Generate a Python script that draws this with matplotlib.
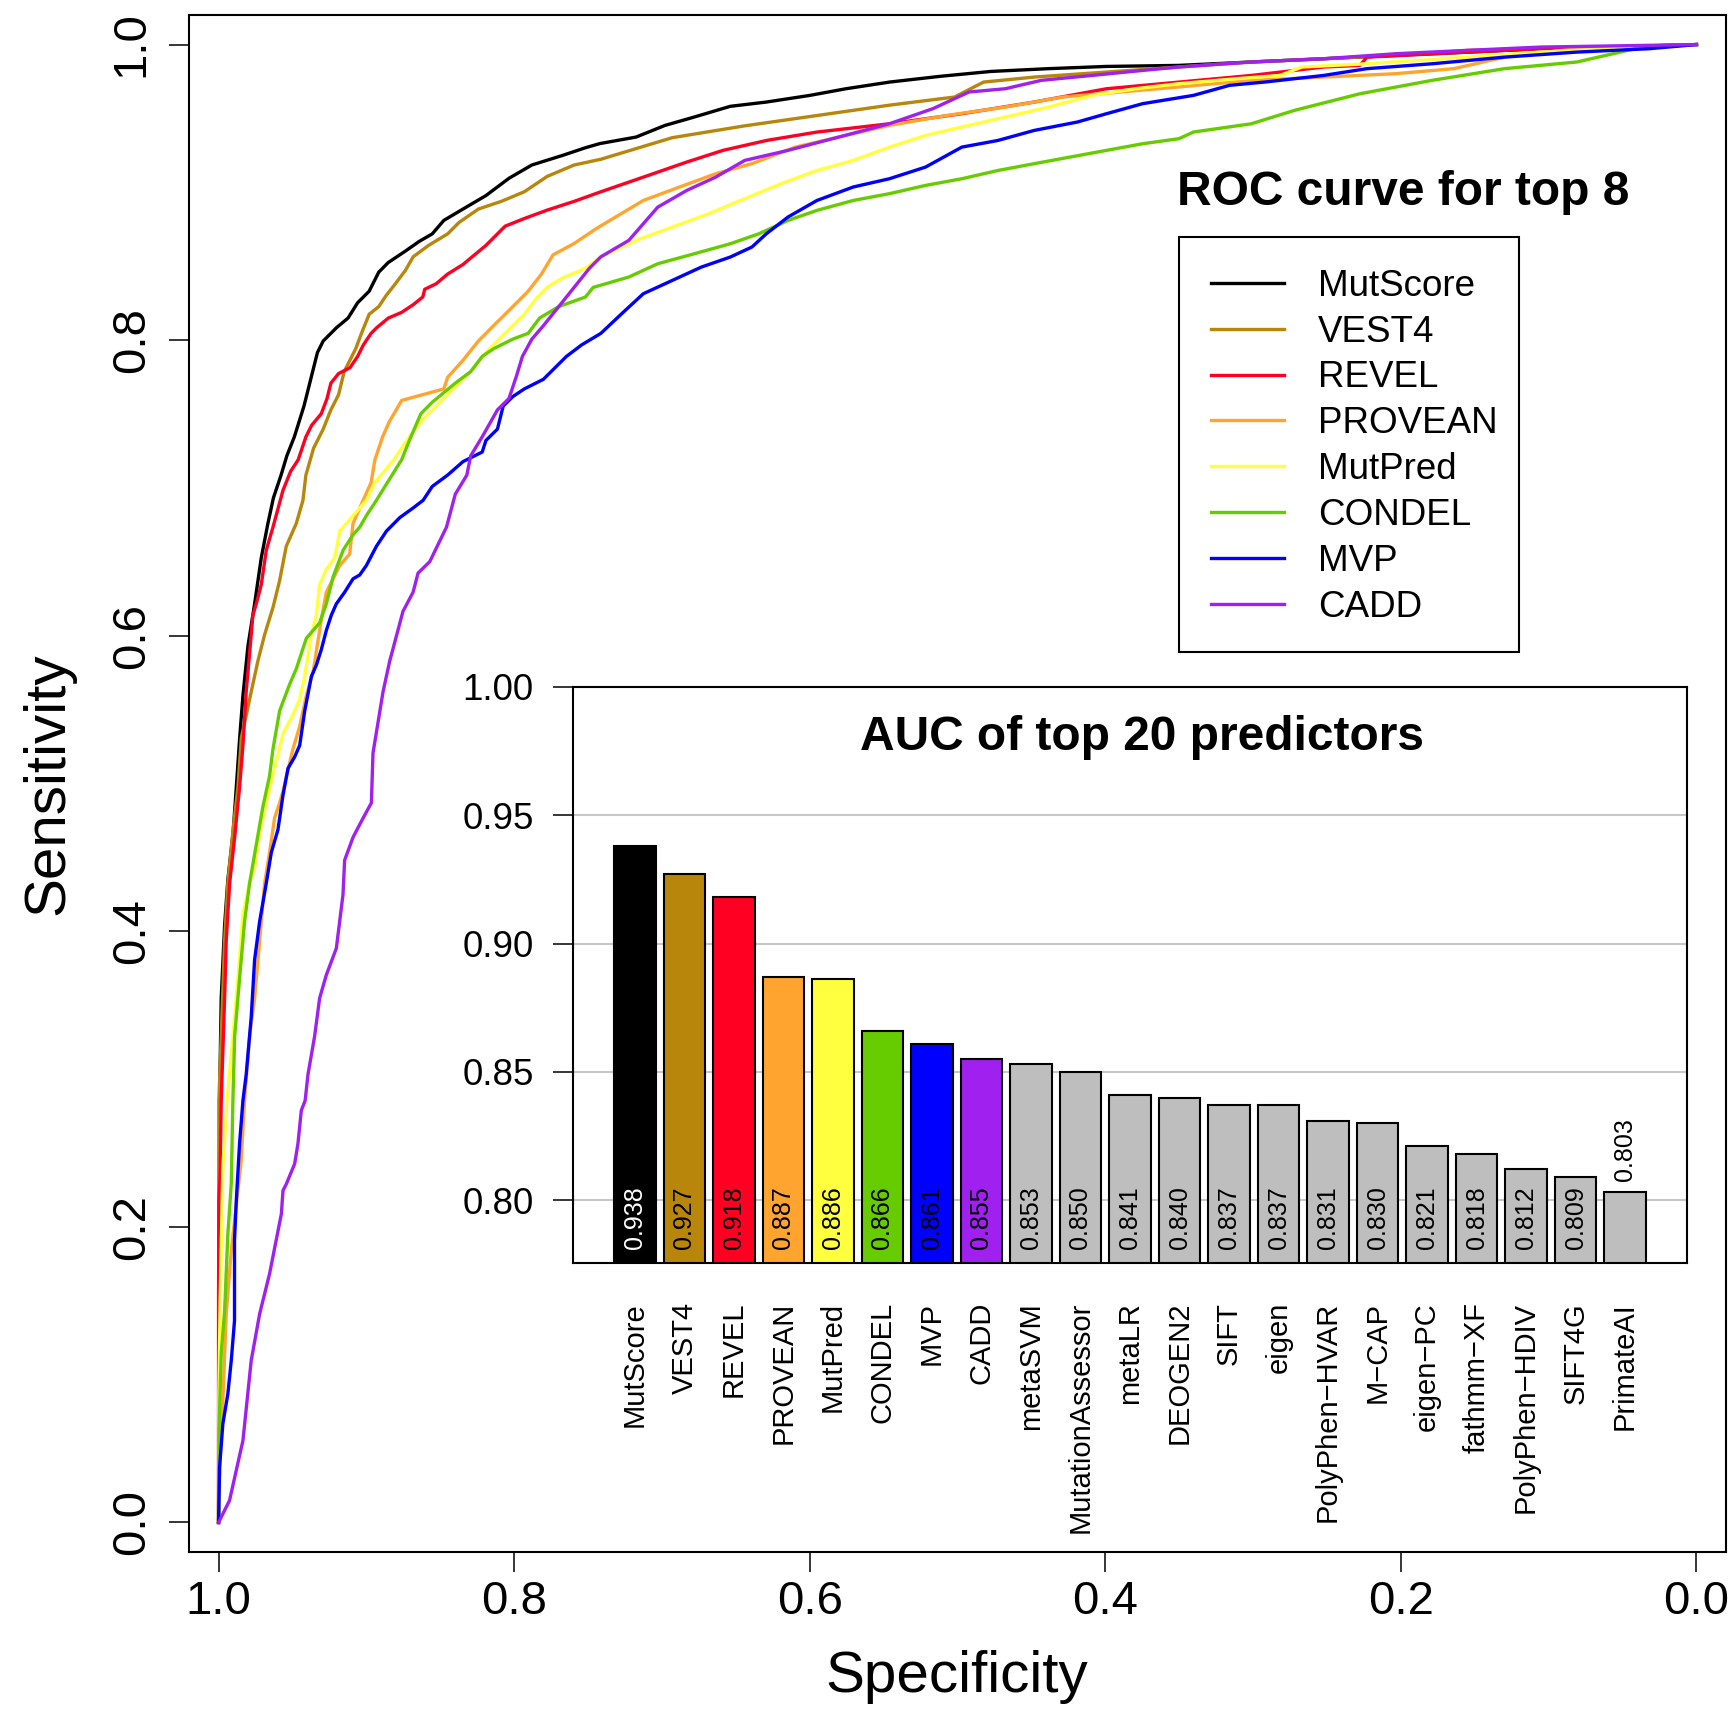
import matplotlib
matplotlib.use("Agg")
import matplotlib.pyplot as plt
from matplotlib.patches import Rectangle

plt.rcParams['font.family'] = ['Liberation Sans', 'DejaVu Sans']

# ROC curves: (specificity, sensitivity)
mutscore_roc = [
    (1.000, 0.000), (0.9995, 0.150), (0.9993, 0.2855), (0.9982, 0.3548), (0.9959, 0.4041),
    (0.9937, 0.4350), (0.9902, 0.4662), (0.9880, 0.4973), (0.9857, 0.5310), (0.9835, 0.5595),
    (0.9801, 0.5931), (0.9756, 0.6216), (0.9711, 0.6527), (0.9666, 0.6760), (0.9629, 0.6932),
    (0.9577, 0.7087), (0.9538, 0.7217), (0.9487, 0.7346), (0.9422, 0.7554), (0.9383, 0.7709),
    (0.9331, 0.7916), (0.9292, 0.7994), (0.9201, 0.8085), (0.9124, 0.8149), (0.9059, 0.8253),
    (0.8981, 0.8331), (0.8916, 0.8460), (0.8852, 0.8525), (0.8735, 0.8603), (0.8644, 0.8667),
    (0.8554, 0.8719), (0.8476, 0.8810), (0.8346, 0.8887), (0.8191, 0.8978), (0.8035, 0.9095),
    (0.7880, 0.9185), (0.7672, 0.9250), (0.7517, 0.9302), (0.7420, 0.9330), (0.7175, 0.9374),
    (0.6979, 0.9453), (0.6783, 0.9509), (0.6538, 0.9582), (0.6293, 0.9611), (0.5999, 0.9656),
    (0.5755, 0.9701), (0.5461, 0.9746), (0.5118, 0.9785), (0.4775, 0.9818), (0.4383, 0.9837),
    (0.3992, 0.9852), (0.3502, 0.9859), (0.3012, 0.9882), (0.2523, 0.9904), (0.2033, 0.9927),
    (0.1543, 0.9949), (0.1053, 0.9972), (0.0564, 0.9983), (0.000, 1.000),
]
vest4_roc = [
    (1.000, 0.000), (0.9998, 0.2855), (0.9982, 0.3290), (0.9959, 0.3937), (0.9937, 0.4326),
    (0.9902, 0.4688), (0.9869, 0.4973), (0.9846, 0.5310), (0.9812, 0.5465), (0.9779, 0.5621),
    (0.9734, 0.5828), (0.9688, 0.6009), (0.9632, 0.6190), (0.9587, 0.6372), (0.9542, 0.6605),
    (0.9474, 0.6760), (0.9429, 0.6916), (0.9409, 0.7087), (0.9357, 0.7269), (0.9292, 0.7398),
    (0.9240, 0.7528), (0.9188, 0.7631), (0.9150, 0.7787), (0.9072, 0.7942), (0.9033, 0.8046),
    (0.8981, 0.8175), (0.8916, 0.8227), (0.8864, 0.8305), (0.8813, 0.8369), (0.8735, 0.8473),
    (0.8683, 0.8564), (0.8579, 0.8641), (0.8450, 0.8719), (0.8372, 0.8797), (0.8242, 0.8887),
    (0.8087, 0.8939), (0.7931, 0.9004), (0.7776, 0.9108), (0.7594, 0.9185), (0.7413, 0.9224),
    (0.6930, 0.9370), (0.6440, 0.9450), (0.5950, 0.9520), (0.5460, 0.9590), (0.5020, 0.9645),
    (0.4824, 0.9746), (0.4481, 0.9780), (0.3992, 0.9814), (0.3502, 0.9848), (0.3012, 0.9882),
    (0.2523, 0.9904), (0.2033, 0.9927), (0.1543, 0.9961), (0.1053, 0.9972), (0.0466, 0.9975),
    (0.000, 1.000),
]
revel_roc = [
    (1.000, 0.000), (1.000, 0.150), (0.9998, 0.2178), (0.9989, 0.2359), (0.9982, 0.2855),
    (0.9959, 0.3548), (0.9948, 0.3937), (0.9925, 0.4326), (0.9891, 0.4636), (0.9858, 0.4973),
    (0.9835, 0.5258), (0.9813, 0.5621), (0.9790, 0.5880), (0.9768, 0.6138), (0.9745, 0.6216),
    (0.9711, 0.6346), (0.9677, 0.6579), (0.9632, 0.6734), (0.9564, 0.6984), (0.9512, 0.7113),
    (0.9461, 0.7191), (0.9409, 0.7346), (0.9370, 0.7424), (0.9305, 0.7502), (0.9266, 0.7605),
    (0.9240, 0.7709), (0.9188, 0.7774), (0.9111, 0.7813), (0.9059, 0.7890), (0.9020, 0.7968),
    (0.8968, 0.8046), (0.8929, 0.8085), (0.8852, 0.8149), (0.8761, 0.8188), (0.8683, 0.8240),
    (0.8618, 0.8292), (0.8605, 0.8344), (0.8527, 0.8382), (0.8450, 0.8447), (0.8346, 0.8512),
    (0.8268, 0.8577), (0.8191, 0.8641), (0.8061, 0.8771), (0.7931, 0.8823), (0.7776, 0.8880),
    (0.7594, 0.8939), (0.7413, 0.9004), (0.7126, 0.9103), (0.6832, 0.9205), (0.6587, 0.9284),
    (0.6293, 0.9351), (0.5951, 0.9408), (0.5461, 0.9464), (0.4971, 0.9532), (0.4481, 0.9611),
    (0.3992, 0.9701), (0.3502, 0.9746), (0.3012, 0.9791), (0.2523, 0.9848), (0.2278, 0.9859),
    (0.2229, 0.9915), (0.1543, 0.9949), (0.1053, 0.9972), (0.000, 1.000),
]
provean_roc = [
    (1.000, 0.000), (0.9993, 0.0374), (0.9971, 0.0825), (0.9948, 0.1411), (0.9914, 0.1840),
    (0.9847, 0.2449), (0.9824, 0.2855), (0.9790, 0.3290), (0.9756, 0.3548), (0.9722, 0.3937),
    (0.9688, 0.4326), (0.9655, 0.4533), (0.9621, 0.4766), (0.9587, 0.4869), (0.9564, 0.4947),
    (0.9497, 0.5232), (0.9451, 0.5387), (0.9406, 0.5595), (0.9361, 0.5750), (0.9304, 0.6113),
    (0.9271, 0.6294), (0.9180, 0.6475), (0.9113, 0.6553), (0.9090, 0.6760), (0.9022, 0.6916),
    (0.8968, 0.7036), (0.8942, 0.7191), (0.8890, 0.7346), (0.8844, 0.7450), (0.8813, 0.7502),
    (0.8761, 0.7592), (0.8476, 0.7670), (0.8450, 0.7748), (0.8346, 0.7864), (0.8242, 0.7994),
    (0.8139, 0.8098), (0.8035, 0.8201), (0.7905, 0.8331), (0.7815, 0.8447), (0.7737, 0.8577),
    (0.7594, 0.8654), (0.7439, 0.8758), (0.7126, 0.8945), (0.6881, 0.9036), (0.6636, 0.9126),
    (0.6391, 0.9194), (0.6098, 0.9306), (0.5804, 0.9374), (0.5461, 0.9453), (0.5069, 0.9521),
    (0.4678, 0.9577), (0.4286, 0.9645), (0.3899, 0.9679), (0.3502, 0.9713), (0.3012, 0.9758),
    (0.2523, 0.9780), (0.2033, 0.9803), (0.1641, 0.9837), (0.1298, 0.9915), (0.0809, 0.9972),
    (0.000, 1.000),
]
mutpred_roc = [
    (1.000, 0.000), (0.9998, 0.0870), (0.9989, 0.1502), (0.9971, 0.2404), (0.9942, 0.2855),
    (0.9903, 0.3290), (0.9869, 0.3678), (0.9835, 0.4118), (0.9790, 0.4326), (0.9756, 0.4429),
    (0.9722, 0.4662), (0.9677, 0.4869), (0.9621, 0.5103), (0.9564, 0.5336), (0.9497, 0.5465),
    (0.9451, 0.5569), (0.9417, 0.5724), (0.9372, 0.6009), (0.9338, 0.6139), (0.9316, 0.6346),
    (0.9271, 0.6449), (0.9214, 0.6527), (0.9180, 0.6708), (0.9090, 0.6812), (0.9000, 0.6916),
    (0.8942, 0.7036), (0.8813, 0.7191), (0.8709, 0.7346), (0.8605, 0.7476), (0.8450, 0.7631),
    (0.8294, 0.7787), (0.8191, 0.7916), (0.8035, 0.8072), (0.7931, 0.8175), (0.7853, 0.8279),
    (0.7776, 0.8357), (0.7672, 0.8421), (0.7517, 0.8486), (0.7420, 0.8560), (0.7175, 0.8675),
    (0.6930, 0.8765), (0.6685, 0.8855), (0.6440, 0.8957), (0.6195, 0.9058), (0.5951, 0.9148),
    (0.5706, 0.9216), (0.5461, 0.9306), (0.5216, 0.9385), (0.4971, 0.9442), (0.4678, 0.9509),
    (0.4384, 0.9577), (0.4090, 0.9656), (0.3796, 0.9701), (0.3502, 0.9735), (0.3110, 0.9769),
    (0.2817, 0.9791), (0.2670, 0.9848), (0.2229, 0.9870), (0.1543, 0.9915), (0.1053, 0.9949),
    (0.000, 1.000),
]
condel_roc = [
    (1.000, 0.000), (0.9998, 0.0599), (0.9982, 0.1141), (0.9959, 0.1434), (0.9937, 0.1953),
    (0.9914, 0.2291), (0.9903, 0.2855), (0.9891, 0.3290), (0.9858, 0.3678), (0.9824, 0.4067),
    (0.9790, 0.4326), (0.9745, 0.4585), (0.9700, 0.4843), (0.9655, 0.5051), (0.9632, 0.5232),
    (0.9587, 0.5491), (0.9519, 0.5672), (0.9474, 0.5776), (0.9406, 0.5983), (0.9316, 0.6087),
    (0.9271, 0.6216), (0.9225, 0.6398), (0.9157, 0.6579), (0.9090, 0.6683), (0.9045, 0.6734),
    (0.9000, 0.6812), (0.8932, 0.6916), (0.8890, 0.6984), (0.8826, 0.7087), (0.8761, 0.7191),
    (0.8709, 0.7321), (0.8631, 0.7502), (0.8554, 0.7580), (0.8398, 0.7709), (0.8294, 0.7787),
    (0.8216, 0.7890), (0.8139, 0.7942), (0.8009, 0.8007), (0.7905, 0.8046), (0.7828, 0.8149),
    (0.7698, 0.8227), (0.7517, 0.8292), (0.7465, 0.8357), (0.7224, 0.8427), (0.7028, 0.8517),
    (0.6783, 0.8584), (0.6538, 0.8652), (0.6343, 0.8720), (0.6147, 0.8810), (0.5951, 0.8878),
    (0.5706, 0.8945), (0.5461, 0.8991), (0.5216, 0.9047), (0.4971, 0.9092), (0.4727, 0.9148),
    (0.4481, 0.9194), (0.4237, 0.9239), (0.3992, 0.9284), (0.3747, 0.9329), (0.3502, 0.9363),
    (0.3404, 0.9408), (0.3012, 0.9464), (0.2719, 0.9555), (0.2278, 0.9667), (0.1788, 0.9758),
    (0.1298, 0.9837), (0.0809, 0.9882), (0.0564, 0.9938), (0.0368, 0.9983), (0.000, 1.000),
]
mvp_roc = [
    (1.000, 0.000), (0.9993, 0.0374), (0.9971, 0.0667), (0.9937, 0.0870), (0.9914, 0.1096),
    (0.9892, 0.1366), (0.9892, 0.1908), (0.9880, 0.2178), (0.9858, 0.2562), (0.9835, 0.2855),
    (0.9813, 0.3031), (0.9779, 0.3419), (0.9756, 0.3808), (0.9722, 0.4067), (0.9677, 0.4326),
    (0.9643, 0.4533), (0.9598, 0.4688), (0.9564, 0.4921), (0.9530, 0.5103), (0.9485, 0.5180),
    (0.9451, 0.5258), (0.9417, 0.5491), (0.9372, 0.5724), (0.9338, 0.5802), (0.9305, 0.5905),
    (0.9271, 0.6035), (0.9237, 0.6139), (0.9203, 0.6216), (0.9147, 0.6294), (0.9090, 0.6385),
    (0.9045, 0.6411), (0.9000, 0.6475), (0.8932, 0.6605), (0.8864, 0.6708), (0.8774, 0.6799),
    (0.8684, 0.6864), (0.8616, 0.6916), (0.8554, 0.7010), (0.8450, 0.7087), (0.8346, 0.7178),
    (0.8216, 0.7243), (0.8191, 0.7321), (0.8113, 0.7398), (0.8074, 0.7554), (0.8009, 0.7618),
    (0.7931, 0.7670), (0.7802, 0.7735), (0.7646, 0.7890), (0.7543, 0.7968), (0.7413, 0.8046),
    (0.7273, 0.8178), (0.7126, 0.8314), (0.6930, 0.8404), (0.6734, 0.8494), (0.6538, 0.8562),
    (0.6391, 0.8630), (0.6293, 0.8720), (0.6147, 0.8833), (0.5951, 0.8945), (0.5706, 0.9036),
    (0.5461, 0.9092), (0.5216, 0.9171), (0.4971, 0.9306), (0.4727, 0.9351), (0.4481, 0.9419),
    (0.4188, 0.9476), (0.3992, 0.9532), (0.3747, 0.9600), (0.3404, 0.9656), (0.3159, 0.9724),
    (0.2914, 0.9747), (0.2523, 0.9791), (0.2229, 0.9837), (0.1788, 0.9870), (0.1298, 0.9915),
    (0.0809, 0.9949), (0.0319, 0.9972), (0.000, 1.000),
]
cadd_roc = [
    (1.000, 0.000), (0.9926, 0.0148), (0.9835, 0.0554), (0.9779, 0.1096), (0.9722, 0.1411),
    (0.9655, 0.1682), (0.9575, 0.2088), (0.9564, 0.2246), (0.9541, 0.2291), (0.9485, 0.2427),
    (0.9463, 0.2562), (0.9440, 0.2788), (0.9414, 0.2855), (0.9395, 0.3031), (0.9350, 0.3290),
    (0.9316, 0.3548), (0.9271, 0.3704), (0.9203, 0.3885), (0.9158, 0.4248), (0.9147, 0.4481),
    (0.9090, 0.4636), (0.9022, 0.4766), (0.8966, 0.4869), (0.8955, 0.5206), (0.8921, 0.5413),
    (0.8887, 0.5621), (0.8842, 0.5828), (0.8752, 0.6165), (0.8684, 0.6294), (0.8650, 0.6424),
    (0.8571, 0.6501), (0.8458, 0.6734), (0.8398, 0.6958), (0.8320, 0.7087), (0.8294, 0.7217),
    (0.8216, 0.7346), (0.8113, 0.7528), (0.8035, 0.7605), (0.7983, 0.7761), (0.7944, 0.7890),
    (0.7880, 0.8007), (0.7802, 0.8098), (0.7698, 0.8227), (0.7594, 0.8357), (0.7491, 0.8486),
    (0.7413, 0.8564), (0.7224, 0.8675), (0.7028, 0.8900), (0.6832, 0.9013), (0.6636, 0.9103),
    (0.6440, 0.9216), (0.6147, 0.9284), (0.5804, 0.9374), (0.5461, 0.9464), (0.5167, 0.9566),
    (0.4922, 0.9679), (0.4677, 0.9701), (0.4432, 0.9758), (0.4090, 0.9791), (0.3747, 0.9825),
    (0.3502, 0.9848), (0.3012, 0.9882), (0.2523, 0.9904), (0.2033, 0.9938), (0.1543, 0.9961),
    (0.1053, 0.9983), (0.000, 1.000),
]

roc_curves = [mutscore_roc, vest4_roc, revel_roc, provean_roc,
              mutpred_roc, condel_roc, mvp_roc, cadd_roc]
roc_names = ['MutScore', 'VEST4', 'REVEL', 'PROVEAN', 'MutPred', 'CONDEL', 'MVP', 'CADD']
roc_colors = ['#000000', '#B8860B', '#FF0022', '#FFA52F',
              '#FFFF40', '#66CC00', '#0000FF', '#A020F0']

# AUC bar chart
predictors = ['MutScore', 'VEST4', 'REVEL', 'PROVEAN', 'MutPred', 'CONDEL', 'MVP', 'CADD',
              'metaSVM', 'MutationAssessor', 'metaLR', 'DEOGEN2', 'SIFT', 'eigen',
              'PolyPhen\u2212HVAR', 'M\u2212CAP', 'eigen\u2212PC', 'fathmm\u2212XF',
              'PolyPhen\u2212HDIV', 'SIFT4G', 'PrimateAI']
auc = [0.938, 0.927, 0.918, 0.887, 0.886, 0.866, 0.861, 0.855, 0.853, 0.850, 0.841,
       0.840, 0.837, 0.837, 0.831, 0.830, 0.821, 0.818, 0.812, 0.809, 0.803]
bar_colors = roc_colors + ['#BEBEBE'] * (len(auc) - len(roc_colors))

W, H = 1734, 1709
fig = plt.figure(figsize=(W / 100, H / 100), dpi=100)


def px_box(x0, y0, x1, y1):
    # pixel box (top-left origin) -> figure fraction rect
    return [x0 / W, 1 - y1 / H, (x1 - x0) / W, (y1 - y0) / H]


# Main ROC panel
ax = fig.add_axes(px_box(189, 15, 1726, 1552))
for i, (pts, name, col) in enumerate(zip(roc_curves, roc_names, roc_colors)):
    spec, sens = zip(*pts)
    ax.plot(spec, sens, color=col, lw=2.4, label=name, zorder=2 + i)
ax.set_xlim(1.02, -0.02)
ax.set_ylim(-0.02, 1.02)
ticks = [0.0, 0.2, 0.4, 0.6, 0.8, 1.0]
ax.set_xticks(ticks)
ax.set_xticklabels([f'{t:.1f}' for t in ticks])
ax.set_yticks(ticks)
ax.set_yticklabels([f'{t:.1f}' for t in ticks], rotation=90, va='center')
ax.tick_params(length=14.4, width=1.1, labelsize=34)
ax.tick_params(axis='x', pad=6)
ax.tick_params(axis='y', pad=11)
for s in ax.spines.values():
    s.set_linewidth(1.5)

fig.text(957 / W, 1 - 1677 / H, 'Specificity', fontsize=42, ha='center', va='center')
fig.text(48 / W, 1 - 784 / H, 'Sensitivity', fontsize=42, ha='center', va='center',
         rotation=90)

# legend entries, with the box drawn separately
ax.legend(loc='upper left', bbox_to_anchor=(1178.5 / W, 1 - 236.7 / H),
          bbox_transform=fig.transFigure, borderaxespad=0, fontsize=26.5,
          frameon=False, borderpad=0.87, handlelength=2.0, handletextpad=0.92,
          labelspacing=0.295)
lx0, ly0, lx1, ly1 = px_box(1178.5, 236.7, 1518.6, 651.7)
fig.add_artist(Rectangle((lx0, ly0), lx1, ly1, transform=fig.transFigure,
                         fill=False, edgecolor='black', linewidth=1.5))
fig.text(1177 / W, 1 - 205 / H, 'ROC curve for top 8', fontsize=34.5,
         fontweight='bold', ha='left', va='baseline')

# Inset AUC bar chart
bx = fig.add_axes(px_box(573, 687, 1687, 1263))
xpos = [0.7 + 1.2 * i for i in range(len(auc))]
bx.bar(xpos, auc, width=1.0, color=bar_colors, edgecolor='black', linewidth=1.5, zorder=2)
bx.set_xlim(-0.8, 26.2)
bx.set_ylim(0.7755, 1.0)
yt = [0.80, 0.85, 0.90, 0.95, 1.00]
bx.set_yticks(yt)
bx.set_yticklabels([f'{t:.2f}' for t in yt])
bx.yaxis.grid(True, color='#C8C8C8', lw=1.5)
bx.set_axisbelow(True)
bx.tick_params(axis='y', length=14.4, width=1.1, labelsize=26.5, pad=14)
bx.set_xticks(xpos)
bx.set_xticklabels(predictors, rotation=90, fontsize=21)
bx.tick_params(axis='x', length=0, pad=28)
for s in bx.spines.values():
    s.set_linewidth(1.5)

for i, (x, a) in enumerate(zip(xpos, auc)):
    inside = a - 0.781 > 0.025
    y = 0.781 if inside else a + 0.0045
    bx.text(x, y, f'{a:.3f}', rotation=90, rotation_mode='anchor', ha='left', va='center',
            fontsize=18, color='white' if i == 0 else 'black', zorder=3)

bx.text(13.0, 0.9755, 'AUC of top 20 predictors', ha='center', va='baseline',
        fontsize=34.5, fontweight='bold')

fig.savefig('out.png', dpi=100)
